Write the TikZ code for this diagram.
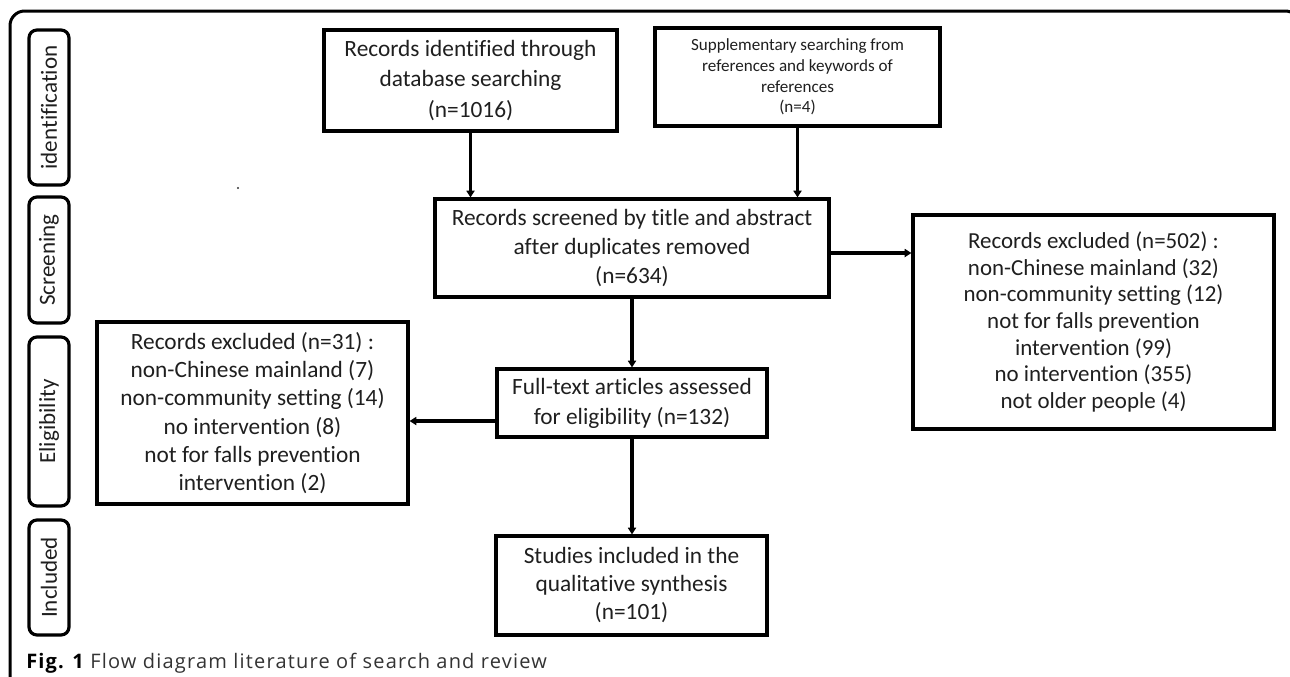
\documentclass[tikz,border=0pt]{standalone}
\usepackage{fontspec}
\setmainfont{Carlito}[Ligatures=NoCommon]
\newfontfamily\capfont{Open Sans}[LetterSpace=6]
\usetikzlibrary{arrows.meta}
\begin{document}
\begin{tikzpicture}[x=0.75pt,y=-0.75pt,
  box/.style={draw=black,line width=2.4pt,align=center,inner sep=0pt,
    font=\fontsize{17.5}{22}\selectfont,text=black!88},
  side/.style={draw=black,line width=2.4pt,rounded corners=6pt,rotate=90,
    minimum height=30pt,inner sep=0pt,font=\fontsize{17.3}{20}\selectfont,text=black!88},
  arr/.style={line width=2.4pt,-{Triangle[length=5pt,width=6pt]}}]
\useasboundingbox (0,0) rectangle (1290,676);
\begin{scope}
\clip (0,0) rectangle (1290,676);
\draw[line width=2.25pt,rounded corners=11pt] (10,720) -- (10,11) -- (1300,11) -- (1300,720);
\end{scope}
% side labels
\node[side,minimum width=116.25pt] (sid) at (49,107.5) {identification};
\node[side,minimum width=94.5pt] (sscr) at (49,260) {Screening};
\node[side,minimum width=126.75pt] (selig) at (49,421.5) {Eligibility};
\node[side,minimum width=86.25pt] (sinc) at (49,577.5) {Included};
% boxes
\node[box,minimum width=219.75pt,minimum height=75.75pt,font=\fontsize{17.5}{23.2}\selectfont] (b1) at (470.5,80.5)
  {Records identified through\\database searching\\(n=1016)};
\node[box,minimum width=213.75pt,minimum height=73.5pt,font=\fontsize{12.8}{15.5}\selectfont] (b2) at (797.5,77)
  {Supplementary searching from\\references and keywords of\\references\\(n=4)};
\node[box,minimum width=295.5pt,minimum height=73.5pt,font=\fontsize{17.5}{21.7}\selectfont] (b3) at (632,248)
  {Records screened by title and abstract\\after duplicates removed\\(n=634)};
\node[box,minimum width=270.75pt,minimum height=160.5pt,font=\fontsize{17.2}{20}\selectfont] (b4) at (1093.5,322)
  {Records excluded (n=502) :\\non-Chinese mainland (32)\\non-community setting (12)\\not for falls prevention\\intervention (99)\\no intervention (355)\\not older people (4)};
\node[box,minimum width=233.25pt,minimum height=136.5pt,font=\fontsize{17.5}{21.2}\selectfont] (b5) at (252.5,413)
  {Records excluded (n=31) :\\non-Chinese mainland (7)\\non-community setting (14)\\no intervention (8)\\not for falls prevention\\intervention (2)};
\node[box,minimum width=202.5pt,minimum height=51pt,font=\fontsize{17.5}{22.5}\selectfont] (b6) at (632,403)
  {Full-text articles assessed\\for eligibility (n=132)};
\node[box,minimum width=203.25pt,minimum height=74.25pt,font=\fontsize{17.5}{21}\selectfont] (b7) at (631.5,585.5)
  {Studies included in the\\qualitative synthesis\\(n=101)};
% stray dot
\fill[black!80] (238,188) circle (0.8pt);
% connectors
\draw[arr] (b1.south) -- (b1.south |- b3.north);
\draw[arr] (b2.south) -- (b2.south |- b3.north);
\draw[arr] ([yshift=-3.75pt]b3.east) -- ([yshift=-3.75pt]b3.east -| b4.west);
\draw[arr] (b3.south) -- (b3.south |- b6.north);
\draw[arr] ([yshift=-13.5pt]b6.west) -- ([yshift=-13.5pt]b6.west -| b5.east);
\draw[arr] (b6.south) -- (b6.south |- b7.north);
% caption
\node[anchor=base west,inner sep=0pt,font=\capfont\fontsize{15}{16}\selectfont,text=black!80] (cap) at (26,668)
  {\textbf{\color{black}Fig. 1} Flow diagram literature of search and review};
\end{tikzpicture}
\end{document}
